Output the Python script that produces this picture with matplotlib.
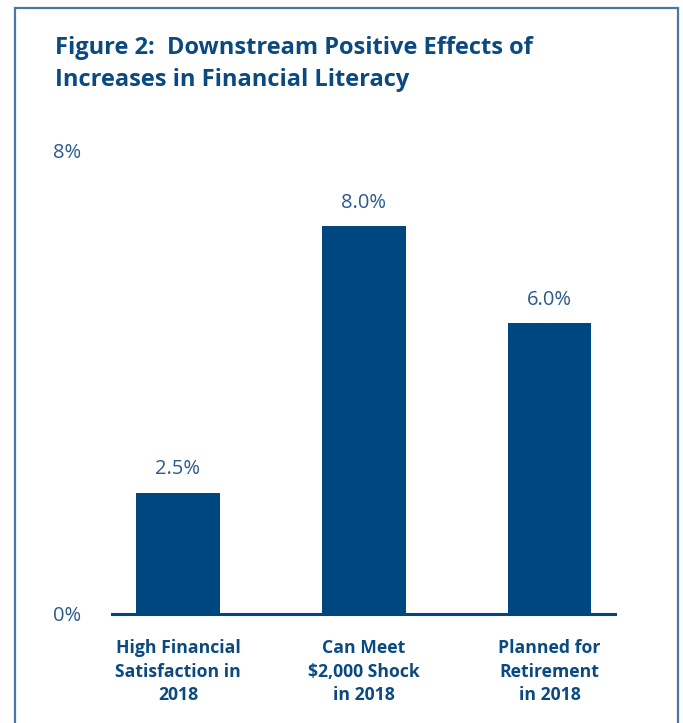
import matplotlib
matplotlib.use("Agg")
import matplotlib.pyplot as plt
from matplotlib.patches import Rectangle

categories = ["High Financial\nSatisfaction in\n2018",
              "Can Meet\n$2,000 Shock\nin 2018",
              "Planned for\nRetirement\nin 2018"]
values = [2.5, 8.0, 6.0]
value_labels = ["2.5%", "8.0%", "6.0%"]
title = "Figure 2:  Downstream Positive Effects of\nIncreases in Financial Literacy"

bar_color = "#00467f"
text_color = "#0b4a80"
tick_color = "#2b5a8c"

plt.rcParams['font.family'] = ['Open Sans', 'DejaVu Sans']

fig = plt.figure(figsize=(6.83, 7.23), dpi=100)
ax = fig.add_axes([0.164, 0.1508, 0.736, 0.6417])

x = range(len(values))
ax.bar(x, values, width=0.45, color=bar_color)
for xi, v, lab in zip(x, values, value_labels):
    ax.text(xi, v + 0.28, lab, ha="center", va="bottom", fontsize=14.5,
            color=tick_color)

ymax = 9.57
ax.set_ylim(0, ymax)
ax.set_xlim(-0.355, 2.35)
ax.set_yticks([0, ymax])
ax.set_yticklabels(["0%", "8%"], fontsize=14.5, color=tick_color)
ax.set_xticks(list(x))
ax.set_xticklabels(categories, fontsize=12.7, fontweight="bold",
                   color=text_color, linespacing=1.4)
ax.tick_params(length=0)
ax.tick_params(axis="x", pad=18)
ax.tick_params(axis="y", pad=22)
for s in ["top", "right", "left"]:
    ax.spines[s].set_visible(False)
ax.spines["bottom"].set_color(bar_color)
ax.spines["bottom"].set_linewidth(2.2)

fig.text(55 / 683, 1 - 36 / 723, title, ha="left", va="top", fontsize=17,
         fontweight="bold", color=text_color, linespacing=1.45)

fig.patches.append(Rectangle((15 / 683, -0.05), (678 - 15) / 683, 1.05 - 8 / 723,
                             transform=fig.transFigure, fill=False,
                             edgecolor="#4f76a3", linewidth=1.6))

fig.savefig("out.png", dpi=100)
